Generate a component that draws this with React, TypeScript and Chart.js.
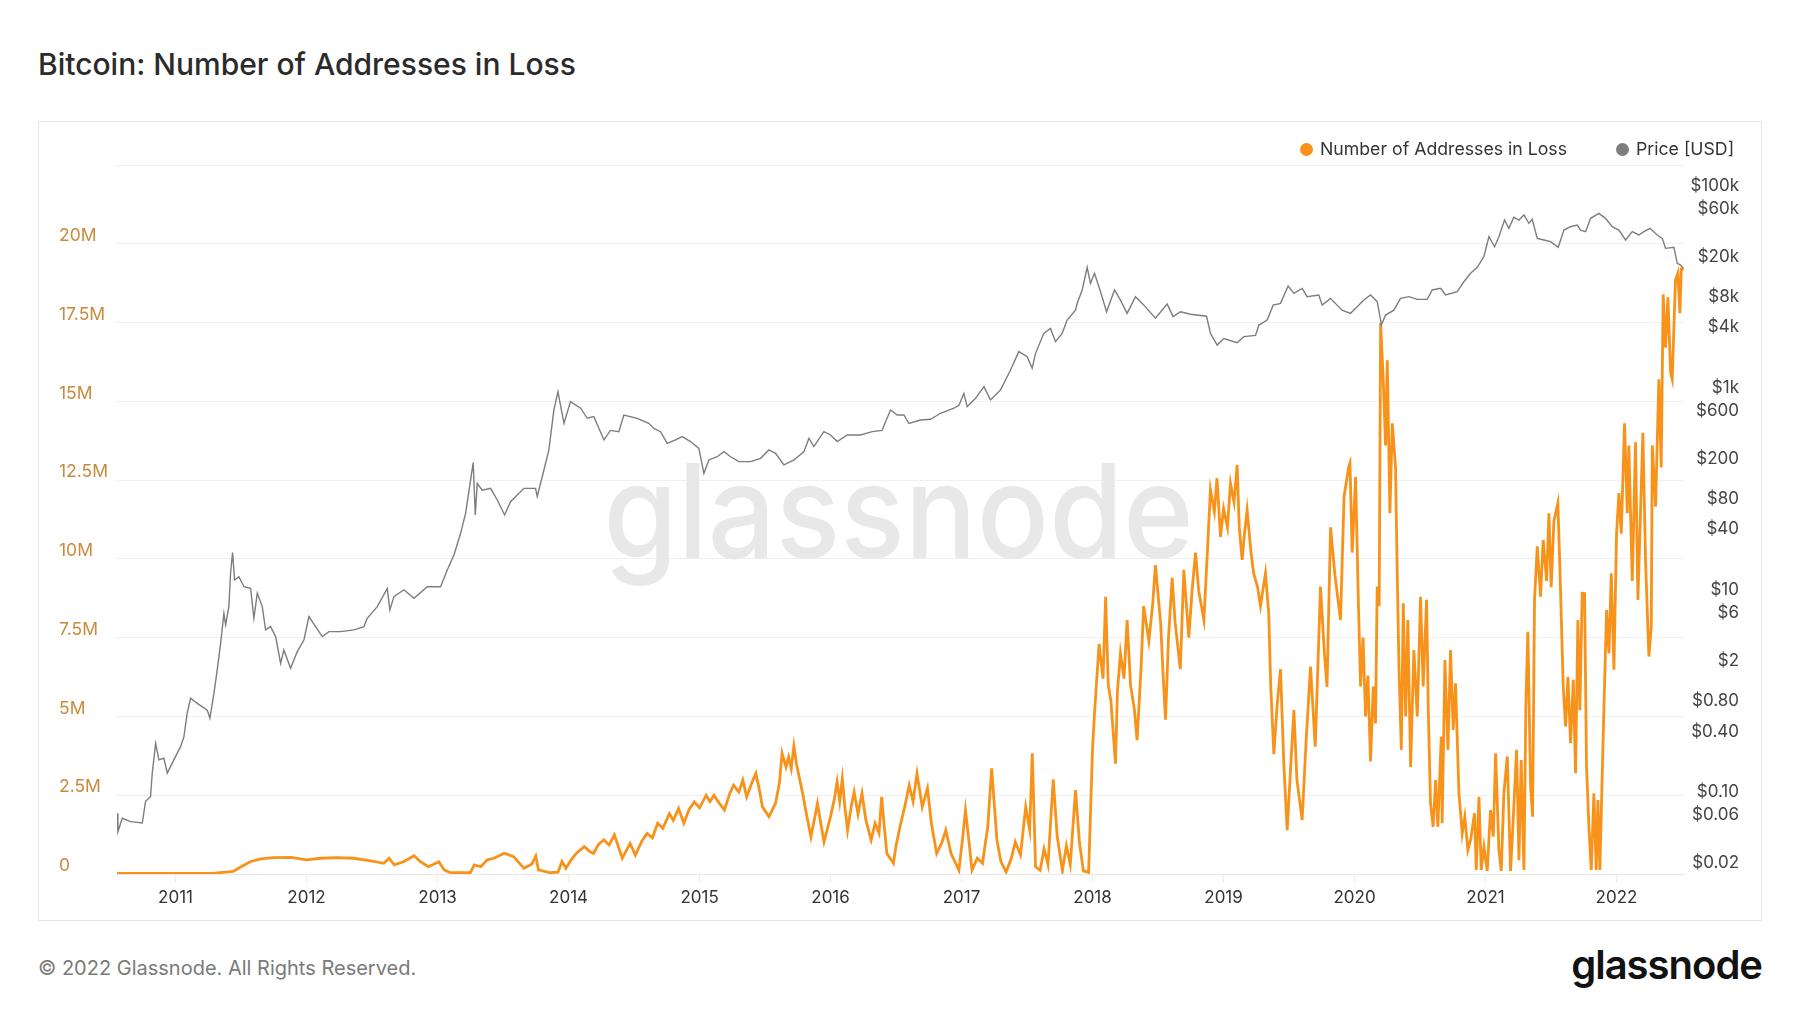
import React, { useEffect, useRef } from 'react';
import { Chart, registerables } from 'chart.js';

Chart.register(...registerables);

// ---- Data (x = decimal year) ----
const lossYears = [
  2010.553, 2011.0, 2011.3, 2011.44, 2011.5, 2011.57, 2011.65, 2011.75, 2011.88, 2012.0, 2012.11, 2012.23, 2012.36, 2012.49,
  2012.59, 2012.63, 2012.67, 2012.74, 2012.82, 2012.87, 2012.93, 2013.01, 2013.05, 2013.1, 2013.25, 2013.28, 2013.33, 2013.38,
  2013.43, 2013.51, 2013.58, 2013.66, 2013.72, 2013.75, 2013.77, 2013.86, 2013.92, 2013.95, 2013.98, 2014.02, 2014.06, 2014.12,
  2014.16, 2014.19, 2014.23, 2014.27, 2014.31, 2014.35, 2014.41, 2014.47, 2014.51, 2014.56, 2014.6, 2014.64, 2014.68, 2014.72,
  2014.77, 2014.8, 2014.84, 2014.88, 2014.92, 2014.96, 2015.0, 2015.05, 2015.08, 2015.11, 2015.15, 2015.19, 2015.23, 2015.26,
  2015.3, 2015.33, 2015.36, 2015.4, 2015.43, 2015.46, 2015.48, 2015.53, 2015.58, 2015.61, 2015.63, 2015.66, 2015.68, 2015.7,
  2015.72, 2015.74, 2015.76, 2015.79, 2015.81, 2015.83, 2015.85, 2015.88, 2015.9, 2015.93, 2015.95, 2016.0, 2016.03, 2016.05,
  2016.07, 2016.09, 2016.11, 2016.13, 2016.16, 2016.18, 2016.21, 2016.24, 2016.27, 2016.31, 2016.34, 2016.37, 2016.39, 2016.41,
  2016.43, 2016.48, 2016.5, 2016.53, 2016.57, 2016.6, 2016.63, 2016.66, 2016.7, 2016.74, 2016.77, 2016.81, 2016.85, 2016.88,
  2016.92, 2016.98, 2017.01, 2017.03, 2017.06, 2017.08, 2017.12, 2017.16, 2017.2, 2017.23, 2017.27, 2017.3, 2017.34, 2017.38,
  2017.41, 2017.45, 2017.49, 2017.52, 2017.54, 2017.565, 2017.6, 2017.63, 2017.66, 2017.7, 2017.73, 2017.77, 2017.8, 2017.83,
  2017.87, 2017.9, 2017.93, 2017.97, 2018.0, 2018.015, 2018.05, 2018.08, 2018.1, 2018.12, 2018.14, 2018.175, 2018.19, 2018.213,
  2018.24, 2018.264, 2018.29, 2018.32, 2018.34, 2018.37, 2018.39, 2018.43, 2018.46, 2018.48, 2018.52, 2018.54, 2018.557, 2018.58,
  2018.608, 2018.63, 2018.67, 2018.697, 2018.735, 2018.76, 2018.786, 2018.81, 2018.85, 2018.88, 2018.9, 2018.93, 2018.95, 2018.977,
  2019.0, 2019.03, 2019.053, 2019.08, 2019.104, 2019.12, 2019.142, 2019.16, 2019.18, 2019.21, 2019.23, 2019.26, 2019.282, 2019.3,
  2019.32, 2019.345, 2019.36, 2019.384, 2019.41, 2019.435, 2019.46, 2019.486, 2019.51, 2019.537, 2019.56, 2019.6, 2019.63, 2019.664,
  2019.7, 2019.74, 2019.77, 2019.79, 2019.817, 2019.85, 2019.893, 2019.92, 2019.956, 2019.965, 2019.982, 2020.008, 2020.03, 2020.046,
  2020.065, 2020.084, 2020.102, 2020.122, 2020.143, 2020.16, 2020.173, 2020.188, 2020.199, 2020.219, 2020.237, 2020.25, 2020.27, 2020.288,
  2020.313, 2020.326, 2020.339, 2020.357, 2020.372, 2020.39, 2020.407, 2020.428, 2020.453, 2020.479, 2020.504, 2020.524, 2020.55, 2020.563,
  2020.58, 2020.6, 2020.619, 2020.636, 2020.662, 2020.669, 2020.69, 2020.713, 2020.733, 2020.753, 2020.771, 2020.797, 2020.822, 2020.842,
  2020.865, 2020.886, 2020.916, 2020.929, 2020.95, 2020.967, 2020.988, 2021.013, 2021.038, 2021.059, 2021.077, 2021.102, 2021.12, 2021.14,
  2021.166, 2021.191, 2021.211, 2021.237, 2021.255, 2021.272, 2021.293, 2021.308, 2021.323, 2021.344, 2021.359, 2021.374, 2021.395, 2021.42,
  2021.44, 2021.466, 2021.484, 2021.501, 2021.522, 2021.552, 2021.568, 2021.593, 2021.611, 2021.629, 2021.649, 2021.67, 2021.687, 2021.705,
  2021.72, 2021.738, 2021.756, 2021.771, 2021.789, 2021.807, 2021.827, 2021.845, 2021.858, 2021.873, 2021.891, 2021.904, 2021.924, 2021.942,
  2021.96, 2021.98, 2022.0, 2022.018, 2022.036, 2022.061, 2022.082, 2022.094, 2022.12, 2022.145, 2022.163, 2022.183, 2022.201, 2022.222,
  2022.247, 2022.265, 2022.273, 2022.298, 2022.323, 2022.341, 2022.356, 2022.374, 2022.392, 2022.413, 2022.425, 2022.45, 2022.468, 2022.484,
  2022.494, 2022.514,
];

// Number of addresses in loss, millions
const lossMillions = [
  0.02, 0.02, 0.03, 0.08, 0.23, 0.39, 0.48, 0.52, 0.53, 0.45, 0.5, 0.52, 0.5, 0.42,
  0.34, 0.5, 0.29, 0.39, 0.58, 0.39, 0.23, 0.39, 0.13, 0.04, 0.04, 0.29, 0.23, 0.45,
  0.5, 0.66, 0.55, 0.18, 0.32, 0.57, 0.13, 0.04, 0.06, 0.4, 0.18, 0.45, 0.66, 0.87,
  0.72, 0.65, 0.95, 1.08, 0.92, 1.24, 0.5, 0.97, 0.6, 1.05, 1.29, 1.15, 1.61, 1.45,
  1.92, 1.7, 2.08, 1.61, 2.05, 2.29, 2.1, 2.5, 2.3, 2.5, 2.25, 2.03, 2.55, 2.82,
  2.6, 2.98, 2.45, 2.9, 3.19, 2.6, 2.13, 1.82, 2.24, 2.9, 3.83, 3.4, 3.72, 3.35,
  4.06, 3.5, 3.09, 2.5, 2.03, 1.6, 1.18, 1.8, 2.24, 1.5, 1.02, 1.82, 2.4, 2.93,
  2.3, 3.03, 2.1, 1.39, 2.2, 2.61, 1.9, 2.56, 1.7, 1.08, 1.61, 1.3, 2.45, 1.5,
  0.65, 0.34, 0.9, 1.5, 2.2, 2.82, 2.3, 3.19, 2.13, 2.72, 1.6, 0.65, 1.0, 1.39,
  0.65, 0.12, 1.2, 2.03, 0.9, 0.12, 0.5, 0.34, 1.5, 3.35, 1.08, 0.4, 0.06, 0.5,
  1.02, 0.6, 2.13, 1.4, 3.83, 0.23, 0.12, 0.8, 0.3, 3.0, 1.2, 0.1, 0.9, 0.3,
  2.66, 1.0, 0.1, 0.05, 3.98, 5.1, 7.3, 6.2, 8.8, 6.0, 5.5, 3.5, 5.8, 7.0,
  6.2, 8.06, 6.0, 5.2, 4.25, 6.5, 8.5, 7.4, 8.6, 9.8, 7.95, 6.2, 4.9, 7.5,
  9.4, 8.0, 6.5, 9.65, 7.5, 9.0, 10.2, 9.0, 8.06, 10.5, 12.2, 11.5, 12.56, 10.7,
  11.6, 11.0, 12.4, 11.8, 12.98, 11.0, 9.97, 10.8, 11.55, 10.2, 9.54, 9.1, 8.5, 9.0,
  9.54, 8.27, 6.0, 3.8, 5.4, 6.5, 3.5, 1.39, 3.2, 5.2, 3.0, 1.71, 4.2, 6.58,
  4.04, 9.12, 7.0, 5.94, 11.0, 9.5, 8.06, 11.98, 12.93, 13.04, 10.2, 12.6, 8.5, 5.95,
  7.5, 5.0, 6.3, 3.57, 5.95, 4.78, 9.12, 8.5, 17.48, 15.7, 13.6, 16.3, 11.45, 14.3,
  12.9, 9.5, 6.58, 3.94, 8.59, 5.0, 8.06, 3.4, 7.11, 5.0, 8.8, 5.95, 8.7, 5.2,
  2.24, 1.5, 2.98, 1.5, 4.36, 1.61, 6.79, 3.94, 7.11, 4.57, 6.05, 2.56, 1.29, 1.82,
  0.76, 1.08, 1.93, 0.13, 2.45, 0.13, 0.87, 0.1, 2.03, 1.19, 3.83, 0.76, 0.1, 2.56,
  3.73, 0.1, 1.71, 3.94, 0.44, 3.62, 0.13, 5.42, 7.69, 2.77, 1.82, 8.7, 10.4, 8.8,
  10.6, 9.3, 11.45, 9.1, 11.2, 11.77, 9.65, 5.95, 4.68, 6.26, 4.15, 6.16, 3.2, 8.06,
  5.2, 8.91, 8.9, 3.41, 1.5, 0.13, 2.56, 0.13, 2.35, 0.13, 3.2, 5.31, 8.38, 7.0,
  9.54, 6.48, 10.8, 12.09, 10.8, 14.3, 11.45, 13.6, 9.3, 13.7, 8.7, 11.45, 14.0, 9.87,
  6.9, 7.85, 13.6, 11.66, 15.7, 12.9, 18.4, 16.7, 18.3, 15.9, 15.7, 18.86, 19.07, 17.8,
  19.2, 19.2,
];

const priceYears = [
  2010.553, 2010.56, 2010.593, 2010.657, 2010.746, 2010.771, 2010.809, 2010.822, 2010.848, 2010.873, 2010.911, 2010.937, 2010.987,
  2011.038, 2011.064, 2011.089, 2011.115, 2011.166, 2011.242, 2011.262, 2011.293, 2011.318, 2011.344, 2011.369, 2011.382, 2011.407,
  2011.42, 2011.435, 2011.451, 2011.484, 2011.522, 2011.573, 2011.598, 2011.624, 2011.662, 2011.687, 2011.725, 2011.764, 2011.802,
  2011.827, 2011.878, 2011.929, 2011.98, 2012.018, 2012.069, 2012.12, 2012.171, 2012.26, 2012.362, 2012.438, 2012.463, 2012.54,
  2012.616, 2012.636, 2012.667, 2012.743, 2012.82, 2012.921, 2013.023, 2013.074, 2013.125, 2013.176, 2013.214, 2013.252, 2013.272,
  2013.288, 2013.303, 2013.341, 2013.405, 2013.456, 2013.512, 2013.557, 2013.659, 2013.748, 2013.761, 2013.812, 2013.85, 2013.888,
  2013.919, 2013.965, 2014.015, 2014.092, 2014.143, 2014.193, 2014.27, 2014.32, 2014.384, 2014.422, 2014.524, 2014.613, 2014.651,
  2014.702, 2014.753, 2014.817, 2014.868, 2014.931, 2014.995, 2015.033, 2015.071, 2015.135, 2015.186, 2015.237, 2015.3, 2015.39,
  2015.466, 2015.529, 2015.58, 2015.644, 2015.72, 2015.796, 2015.835, 2015.873, 2015.949, 2016.0, 2016.051, 2016.127, 2016.229,
  2016.318, 2016.394, 2016.42, 2016.458, 2016.509, 2016.56, 2016.598, 2016.687, 2016.763, 2016.84, 2016.942, 2016.98, 2017.018,
  2017.043, 2017.107, 2017.171, 2017.221, 2017.297, 2017.374, 2017.437, 2017.501, 2017.539, 2017.565, 2017.628, 2017.679, 2017.717,
  2017.768, 2017.806, 2017.87, 2017.883, 2017.921, 2017.959, 2017.984, 2018.015, 2018.061, 2018.107, 2018.168, 2018.213, 2018.264,
  2018.328, 2018.392, 2018.48, 2018.57, 2018.615, 2018.671, 2018.748, 2018.87, 2018.9, 2018.951, 2019.002, 2019.104, 2019.155,
  2019.244, 2019.27, 2019.333, 2019.379, 2019.435, 2019.493, 2019.537, 2019.6, 2019.638, 2019.727, 2019.753, 2019.816, 2019.905,
  2019.969, 2020.02, 2020.071, 2020.122, 2020.173, 2020.199, 2020.204, 2020.237, 2020.3, 2020.351, 2020.415, 2020.479, 2020.555,
  2020.593, 2020.657, 2020.695, 2020.784, 2020.835, 2020.886, 2020.937, 2020.987, 2021.026, 2021.069, 2021.102, 2021.145, 2021.178,
  2021.216, 2021.255, 2021.293, 2021.331, 2021.356, 2021.395, 2021.446, 2021.496, 2021.555, 2021.598, 2021.649, 2021.7, 2021.725,
  2021.764, 2021.802, 2021.865, 2021.916, 2021.967, 2022.018, 2022.069, 2022.12, 2022.171, 2022.209, 2022.255, 2022.311, 2022.349,
  2022.374, 2022.438, 2022.463, 2022.489, 2022.509,
];

const priceUsd = [
  0.076, 0.05, 0.068, 0.063, 0.061, 0.1, 0.111, 0.19, 0.375, 0.257, 0.267, 0.19, 0.257,
  0.348, 0.437, 0.745, 1.05, 0.933, 0.8, 0.664, 1.17, 2.0, 3.66, 7.24, 5.56, 8.45,
  18.1, 28.9, 15.5, 16.7, 13.3, 12.8, 6.47, 11.5, 8.45, 4.97, 5.36, 4.27, 2.32,
  3.15, 2.07, 3.03, 3.95, 6.73, 5.36, 4.27, 4.78, 4.78, 4.97, 5.36, 6.47, 8.45,
  12.8, 7.83, 10.6, 12.4, 10.2, 13.3, 13.3, 19.5, 27.4, 44.9, 70.8, 151, 225,
  68.2, 140, 120, 125, 95.9, 68.2, 92.3, 125, 125, 104, 190, 300, 746,
  1132, 551, 902, 776, 617, 640, 377, 468, 455, 665, 617, 550, 490,
  455, 349, 377, 406, 363, 311, 176, 239, 257, 288, 257, 230, 230,
  248, 300, 278, 213, 239, 288, 391, 324, 455, 422, 363, 422, 422,
  455, 468, 571, 745, 665, 665, 550, 594, 603, 692, 776, 832, 1089,
  804, 973, 1268, 938, 1175, 1854, 2818, 2512, 1928, 2710, 4276, 4786, 3532,
  4276, 5794, 7244, 8472, 11482, 19231, 13366, 16788, 11041, 6998, 11482, 9120, 6745,
  9863, 8128, 6026, 8318, 6252, 6998, 6607, 6310, 4276, 3273, 3802, 3451, 3963,
  4074, 5164, 5794, 8128, 8472, 12560, 10641, 11912, 9863, 10233, 8128, 9484, 7244,
  6745, 7852, 9141, 10233, 8790, 5794, 5164, 6486, 7244, 9484, 9863, 9268, 9268,
  11482, 11912, 10233, 11041, 13868, 16788, 19231, 24547, 38637, 30761, 38637, 56494, 46774,
  60117, 56494, 63387, 52360, 57412, 37239, 35892, 34514, 30339, 44978, 48529, 50466, 44978,
  43351, 58749, 65766, 58749, 48529, 44978, 35892, 43351, 40179, 43351, 46774, 40179, 37239,
  29648, 30339, 21086, 20277, 18793,
];

const yearTicks = [2011, 2012, 2013, 2014, 2015, 2016, 2017, 2018, 2019, 2020, 2021, 2022];
const lossTickValues = [0, 2.5, 5, 7.5, 10, 12.5, 15, 17.5, 20, 22.5];
const lossTickLabels = ['0', '2.5M', '5M', '7.5M', '10M', '12.5M', '15M', '17.5M', '20M', ''];
const priceTickValues = [100000, 60000, 20000, 8000, 4000, 1000, 600, 200, 80, 40, 10, 6, 2, 0.8, 0.4, 0.1, 0.06, 0.02];
const priceTickLabels = ['$100k', '$60k', '$20k', '$8k', '$4k', '$1k', '$600', '$200', '$80', '$40', '$10', '$6', '$2', '$0.80', '$0.40', '$0.10', '$0.06', '$0.02'];

const LOSS_COLOR = '#f7931a';
const PRICE_COLOR = '#7d7d7d';
const FONT = 'Inter, "Noto Sans", sans-serif';

const watermarkPlugin = {
  id: 'glassWatermark',
  beforeDatasetsDraw(chart: any) {
    const { ctx, chartArea } = chart;
    ctx.save();
    ctx.font = '500 130px ' + FONT;
    const w = ctx.measureText('glassnode').width;
    const targetW = 590;
    const cx = (chartArea.left + chartArea.right) / 2 - 2;
    const baseY = (chartArea.top + chartArea.bottom) / 2 + 38;
    ctx.translate(cx - targetW / 2, baseY);
    ctx.scale(targetW / w, 1);
    ctx.fillStyle = '#e8e8e9';
    ctx.textBaseline = 'alphabetic';
    ctx.fillText('glassnode', 0, 0);
    ctx.restore();
  },
};

function ChartCanvas() {
  const ref = useRef<HTMLCanvasElement | null>(null);
  useEffect(() => {
    if (!ref.current) return;
    const lossData = lossYears.map((x, i) => ({ x, y: lossMillions[i] }));
    const priceData = priceYears.map((x, i) => ({ x, y: priceUsd[i] }));
    const chart = new Chart(ref.current, {
      type: 'line',
      data: {
        datasets: [
          {
            label: 'Number of Addresses in Loss',
            data: lossData,
            yAxisID: 'yLoss',
            borderColor: LOSS_COLOR,
            backgroundColor: LOSS_COLOR,
            borderWidth: 2.8,
            pointRadius: 0,
            tension: 0,
            order: 1,
          },
          {
            label: 'Price [USD]',
            data: priceData,
            yAxisID: 'yPrice',
            borderColor: PRICE_COLOR,
            backgroundColor: PRICE_COLOR,
            borderWidth: 1.4,
            pointRadius: 0,
            tension: 0,
            order: 0,
          },
        ],
      },
      options: {
        animation: false,
        responsive: false,
        layout: { padding: { left: 20, right: 22, top: 43, bottom: 0 } },
        plugins: {
          legend: { display: false },
          tooltip: { enabled: false },
          title: { display: false },
        },
        scales: {
          x: {
            type: 'linear',
            min: 2010.553,
            max: 2022.515,
            afterBuildTicks: (s: any) => {
              s.ticks = yearTicks.map((v) => ({ value: v }));
            },
            afterFit: (s: any) => {
              s.height = 46;
            },
            grid: { drawOnChartArea: false, drawTicks: true, tickLength: 8, color: '#ececec' },
            border: { display: true, color: '#e8e8e8' },
            ticks: {
              autoSkip: false,
              maxRotation: 0,
              padding: 6,
              color: '#333333',
              font: { family: FONT, size: 17 },
              callback: (v: any) => String(v),
            },
          },
          yLoss: {
            type: 'linear',
            position: 'left',
            min: 0,
            max: 22.5,
            afterBuildTicks: (s: any) => {
              s.ticks = lossTickValues.map((v) => ({ value: v }));
            },
            afterFit: (s: any) => {
              s.width = 58;
            },
            grid: { drawTicks: false, color: '#f0f0f0', lineWidth: 1 },
            border: { display: false },
            ticks: {
              autoSkip: false,
              crossAlign: 'far',
              padding: 0,
              labelOffset: -8,
              color: '#c88a3b',
              font: { family: FONT, size: 17.5 },
              callback: (v: any) => {
                const i = lossTickValues.indexOf(Number(v));
                return i >= 0 ? lossTickLabels[i] : '';
              },
            },
          },
          yPrice: {
            type: 'logarithmic',
            position: 'right',
            min: 0.0191,
            max: 198000,
            afterBuildTicks: (s: any) => {
              s.ticks = priceTickValues.map((v) => ({ value: v }));
            },
            afterFit: (s: any) => {
              s.width = 55;
            },
            grid: { display: false, drawTicks: false },
            border: { display: false },
            ticks: {
              autoSkip: false,
              crossAlign: 'far',
              padding: 0,
              labelOffset: -9,
              color: '#444444',
              font: { family: FONT, size: 17 },
              callback: (v: any) => {
                const i = priceTickValues.indexOf(Number(v));
                return i >= 0 ? priceTickLabels[i] : '';
              },
            },
          },
        },
      },
      plugins: [watermarkPlugin],
    } as any);
    return () => chart.destroy();
  }, []);
  return <canvas ref={ref} width={1722} height={798} style={{ width: 1722, height: 798, display: 'block' }} />;
}

function LegendItem({ color, label, left }: { color: string; label: string; left: number }) {
  return (
    <div
      style={{
        position: 'absolute',
        left,
        top: 140,
        height: 18,
        display: 'flex',
        alignItems: 'center',
        fontFamily: FONT,
        fontSize: 17.7,
        lineHeight: '18px',
        color: '#333',
        whiteSpace: 'nowrap',
      }}
    >
      <span style={{ width: 13, height: 13, borderRadius: '50%', background: color, display: 'inline-block', marginRight: 7 }} />
      <span>{label}</span>
    </div>
  );
}

export default function App() {
  return (
    <div style={{ position: 'absolute', left: 0, top: 0, width: 1800, height: 1013, background: '#ffffff', overflow: 'hidden', fontFamily: FONT }}>
      <div
        style={{
          position: 'absolute',
          left: 38,
          top: 49,
          fontSize: 30,
          lineHeight: '30px',
          fontWeight: 500,
          color: '#2b2b2b',
          whiteSpace: 'nowrap',
        }}
      >
        Bitcoin: Number of Addresses in Loss
      </div>
      <div
        style={{
          position: 'absolute',
          left: 38,
          top: 121,
          width: 1724,
          height: 800,
          boxSizing: 'border-box',
          border: '1px solid #e4e4e4',
        }}
      >
        <ChartCanvas />
      </div>
      <LegendItem color={LOSS_COLOR} label="Number of Addresses in Loss" left={1300} />
      <LegendItem color="#7d7d7d" label="Price [USD]" left={1616} />
      <div
        style={{
          position: 'absolute',
          left: 38,
          top: 958,
          fontSize: 20,
          lineHeight: '20px',
          color: '#7a7a7a',
          whiteSpace: 'nowrap',
        }}
      >
        © 2022 Glassnode. All Rights Reserved.
      </div>
      <div
        style={{
          position: 'absolute',
          right: 38,
          top: 945,
          fontSize: 40,
          lineHeight: '40px',
          fontWeight: 600,
          letterSpacing: '-1px',
          color: '#121212',
          whiteSpace: 'nowrap',
        }}
      >
        glassnode
      </div>
    </div>
  );
}
